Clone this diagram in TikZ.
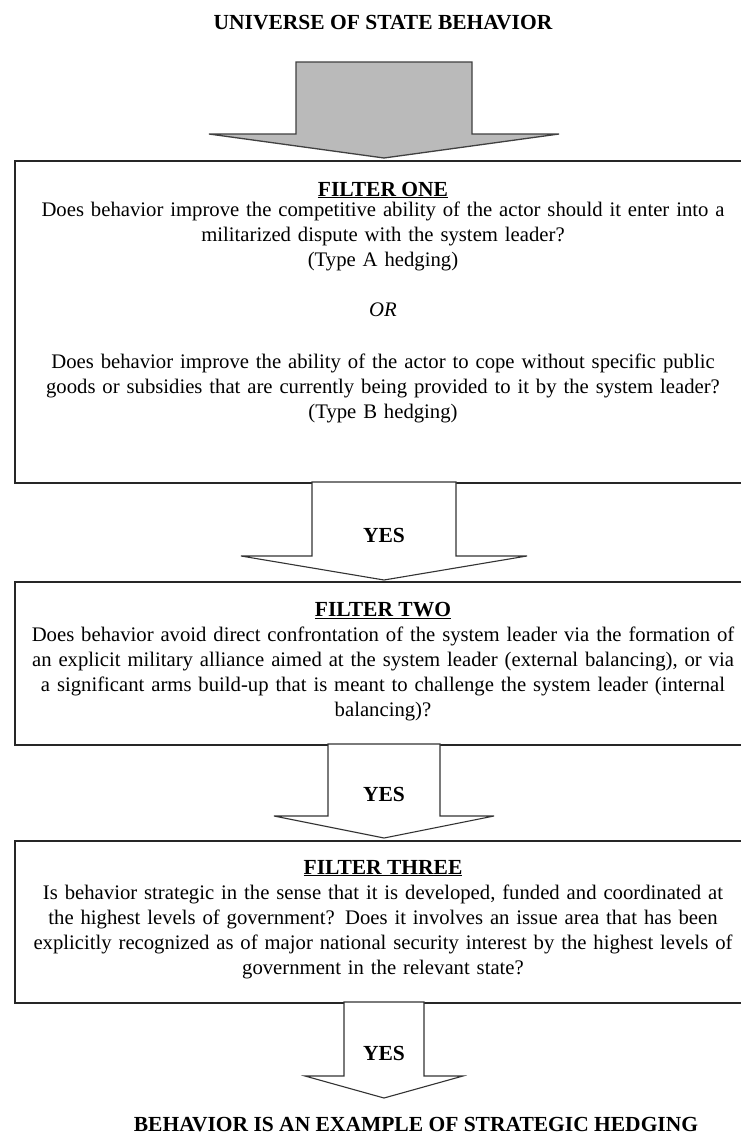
\documentclass[tikz,border=0pt]{standalone}
\usepackage{fontspec}
\setmainfont{Liberation Serif}
% #1 style, #2 centre x, #3 top, #4 head base, #5 tip, #6 shaft half width, #7 head half width
\newcommand\blkarrow[7]{\draw[#1] (#2-#6,#3) -- (#2+#6,#3) -- (#2+#6,#4) -- (#2+#7,#4) -- (#2,#5) -- (#2-#7,#4) -- (#2-#6,#4) -- cycle;}
\begin{document}
\begin{tikzpicture}[x=1pt,y=-1pt,
  box/.style={draw=black!85, line width=2.4pt, inner sep=0pt, anchor=north west, minimum width=738pt},
  grayarrow/.style={draw=black!75, fill=black!27, line width=1.3pt, line join=miter},
  whitearrow/.style={draw=black!80, fill=white, line width=1.1pt, line join=miter},
  txt/.style={inner sep=0pt, anchor=base, align=center, text width=740pt, font=\fontsize{20.7}{25}\selectfont},
  hdr/.style={inner sep=0pt, anchor=base, font=\bfseries\fontsize{21.5}{25}\selectfont}]
\useasboundingbox[fill=white] (0,0) rectangle (741,1135);

% boxes
\node[box, minimum height=322pt] (f1) at (14,160) {};
\node[box, minimum height=163pt] (f2) at (14,581) {};
\node[box, minimum height=162pt] (f3) at (14,840) {};

% block arrows
\blkarrow{grayarrow}{384}{62}{134}{158}{88}{175}
\blkarrow{whitearrow}{384}{482}{556}{580}{72}{143}
\blkarrow{whitearrow}{384}{744}{816}{838}{56}{110}
\blkarrow{whitearrow}{384}{1002}{1076}{1098}{40}{79}

% texts
\node[hdr] (title) at (383,29) {UNIVERSE OF STATE BEHAVIOR};

\node[hdr] (h1) at (383,196) {\underline{FILTER ONE}};
\node[txt] (t1a) at (383,216) {Does behavior improve the competitive ability of the actor should it enter into a\\
militarized dispute with the system leader?\\
(Type A hedging)};
\node[txt] (or) at (383,316) {\textit{OR}};
\node[txt] (t1b) at (383,368) {Does behavior improve the ability of the actor to cope without specific public\\
goods or subsidies that are currently being provided to it by the system leader?\\
(Type B hedging)};

\node[hdr] (yes1) at (384,542) {YES};

\node[hdr] (h2) at (383,616) {\underline{FILTER TWO}};
\node[txt] (t2) at (383,641) {Does behavior avoid direct confrontation of the system leader via the formation of\\
an explicit military alliance aimed at the system leader (external balancing), or via\\
a significant arms build-up that is meant to challenge the system leader (internal\\
balancing)?};

\node[hdr] (yes2) at (384,801) {YES};

\node[hdr] (h3) at (383,874) {\underline{FILTER THREE}};
\node[txt] (t3) at (383,899) {Is behavior strategic in the sense that it is developed, funded and coordinated at\\
the highest levels of government? Does it involves an issue area that has been\\
explicitly recognized as of major national security interest by the highest levels of\\
government in the relevant state?};

\node[hdr] (yes3) at (384,1060) {YES};

\node[hdr] (bottom) at (416,1131) {BEHAVIOR IS AN EXAMPLE OF STRATEGIC HEDGING};
\end{tikzpicture}
\end{document}
